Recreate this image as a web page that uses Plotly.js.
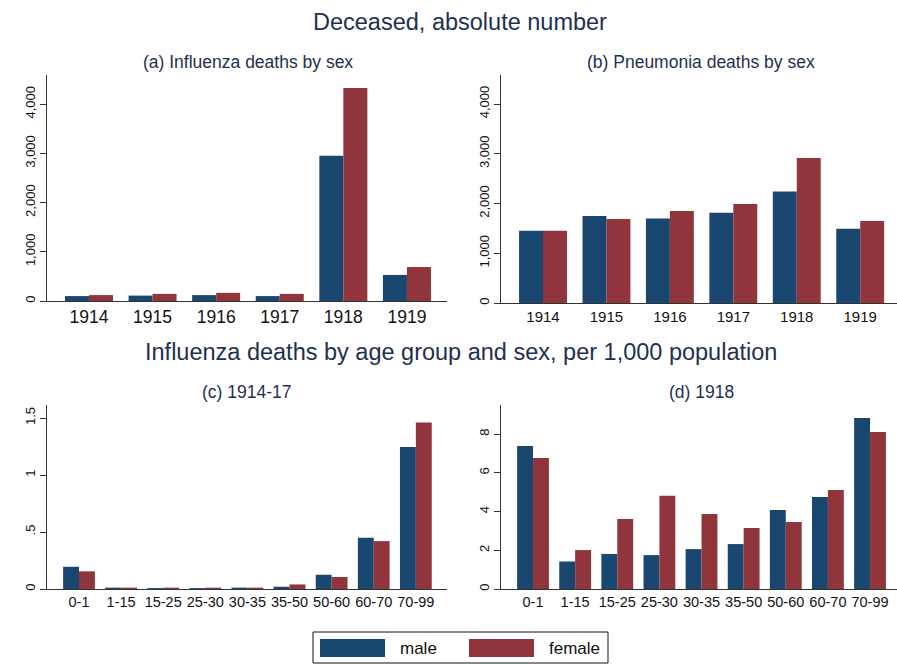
<!DOCTYPE html>
<html>
<head>
<meta charset="utf-8">
<script src="https://cdn.plot.ly/plotly-3.0.1.min.js"></script>
<style>html,body{margin:0;padding:0;background:#fff;}#chart{width:897px;height:664px;}</style>
</head>
<body>
<div id="chart"></div>
<script>
// ---- data ----
var years = ['1914', '1915', '1916', '1917', '1918', '1919'];
var fluMale = [100, 110, 120, 100, 2950, 530];
var fluFemale = [120, 145, 165, 145, 4330, 690];
var pneuMale = [1450, 1750, 1700, 1815, 2240, 1495];
var pneuFemale = [1450, 1690, 1850, 1990, 2915, 1650];
var ageGroups = ['0-1', '1-15', '15-25', '25-30', '30-35', '35-50', '50-60', '60-70', '70-99'];
var age1417Male = [0.195, 0.012, 0.008, 0.008, 0.012, 0.02, 0.125, 0.45, 1.245];
var age1417Female = [0.155, 0.012, 0.012, 0.012, 0.012, 0.04, 0.105, 0.42, 1.46];
var age1918Male = [7.38, 1.42, 1.81, 1.75, 2.06, 2.32, 4.08, 4.75, 8.83];
var age1918Female = [6.76, 2.01, 3.61, 4.82, 3.87, 3.15, 3.46, 5.11, 8.10];
var absTicks = [0, 1000, 2000, 3000, 4000];
var absTickText = ['0', '1,000', '2,000', '3,000', '4,000'];
var rateTicksC = [0, 0.5, 1, 1.5];
var rateTickTextC = ['0', '.5', '1', '1.5'];
var rateTicksD = [0, 2, 4, 6, 8];
var seriesNames = ['male', 'female'];

var MALE = '#1a476f', FEMALE = '#90353b', TITLE = '#1f2f52', AXIS = '#333333';
var W = 897, H = 664;
function px(x) { return x / W; }
function py(y) { return 1 - y / H; }

function bar(x, y, color, name, xa, ya) {
  return {type: 'bar', x: x, y: y, name: name, xaxis: xa, yaxis: ya,
    marker: {color: color, line: {width: 0}}, showlegend: false, hoverinfo: 'x+y'};
}

var data = [
  bar(years, fluMale, MALE, seriesNames[0], 'x', 'y'),
  bar(years, fluFemale, FEMALE, seriesNames[1], 'x', 'y'),
  bar(years, pneuMale, MALE, seriesNames[0], 'x2', 'y2'),
  bar(years, pneuFemale, FEMALE, seriesNames[1], 'x2', 'y2'),
  bar(ageGroups, age1417Male, MALE, seriesNames[0], 'x3', 'y3'),
  bar(ageGroups, age1417Female, FEMALE, seriesNames[1], 'x3', 'y3'),
  bar(ageGroups, age1918Male, MALE, seriesNames[0], 'x4', 'y4'),
  bar(ageGroups, age1918Female, FEMALE, seriesNames[1], 'x4', 'y4')
];

var FONT = 'Liberation Sans, Arial, sans-serif';
function xaxis(domain, range, anchor, size) {
  return {domain: domain, range: range, type: 'category', anchor: anchor,
    showline: true, linecolor: AXIS, linewidth: 1, ticks: '', showgrid: false, zeroline: false,
    tickfont: {family: FONT, size: size, color: '#111'}, fixedrange: true};
}
function yaxis(domain, range, anchor, vals, text) {
  var a = {domain: domain, range: range, anchor: anchor,
    showline: true, linecolor: AXIS, linewidth: 1, ticks: 'outside', ticklen: 6, tickcolor: AXIS,
    showgrid: false, zeroline: false, tickangle: -90, tickvals: vals,
    tickfont: {family: FONT, size: 13, color: '#111'}, fixedrange: true};
  if (text) a.ticktext = text;
  return a;
}

var ann = function (text, x, y, size) {
  return {text: text, xref: 'paper', yref: 'paper', x: px(x), y: py(y), xanchor: 'center', yanchor: 'middle',
    showarrow: false, font: {family: FONT, size: size, color: TITLE}};
};

var layout = {
  width: W, height: H, margin: {l: 0, r: 0, t: 0, b: 0},
  paper_bgcolor: '#fff', plot_bgcolor: '#fff',
  barmode: 'group', bargap: 0.245, bargroupgap: 0,
  showlegend: false,
  font: {family: FONT},
  xaxis: xaxis([px(47), px(447)], [-0.66, 5.63], 'y', 17.5),
  yaxis: yaxis([py(301), py(75)], [0, 4593], 'x', absTicks, absTickText),
  xaxis2: xaxis([px(501), px(897)], [-0.662, 5.58], 'y2', 15),
  yaxis2: yaxis([py(303), py(75)], [0, 4583], 'x2', absTicks, absTickText),
  xaxis3: xaxis([px(47), px(447)], [-0.76, 8.74], 'y3', 14.5),
  yaxis3: yaxis([py(589), py(405)], [0, 1.614], 'x3', rateTicksC, rateTickTextC),
  xaxis4: xaxis([px(501), px(897)], [-0.76, 8.64], 'y4', 14.5),
  yaxis4: yaxis([py(589), py(405)], [0, 9.5], 'x4', rateTicksD, null),
  annotations: [
    ann('Deceased, absolute number', 460, 22, 23.5),
    ann('(a) Influenza deaths by sex', 248, 62, 17.5),
    ann('(b) Pneumonia deaths by sex', 701, 62, 17.5),
    ann('Influenza deaths by age group and sex, per 1,000 population', 461, 352, 23.5),
    ann('(c) 1914-17', 247, 392, 17.5),
    ann('(d) 1918', 701, 392, 17.5),
    {text: seriesNames[0], xref: 'paper', yref: 'paper', x: px(398), y: py(648), xanchor: 'left', yanchor: 'middle',
      showarrow: false, font: {family: FONT, size: 17, color: '#111'}},
    {text: seriesNames[1], xref: 'paper', yref: 'paper', x: px(547), y: py(648), xanchor: 'left', yanchor: 'middle',
      showarrow: false, font: {family: FONT, size: 17, color: '#111'}}
  ],
  shapes: [
    {type: 'rect', xref: 'paper', yref: 'paper', x0: px(313), x1: px(608), y0: py(663), y1: py(632),
      line: {color: '#111', width: 1}, fillcolor: 'rgba(0,0,0,0)'},
    {type: 'rect', xref: 'paper', yref: 'paper', x0: px(320), x1: px(385), y0: py(657), y1: py(639),
      line: {width: 0}, fillcolor: MALE},
    {type: 'rect', xref: 'paper', yref: 'paper', x0: px(469), x1: px(534), y0: py(657), y1: py(639),
      line: {width: 0}, fillcolor: FEMALE}
  ]
};

Plotly.newPlot('chart', data, layout, {displayModeBar: false, staticPlot: true});
</script>
</body>
</html>
